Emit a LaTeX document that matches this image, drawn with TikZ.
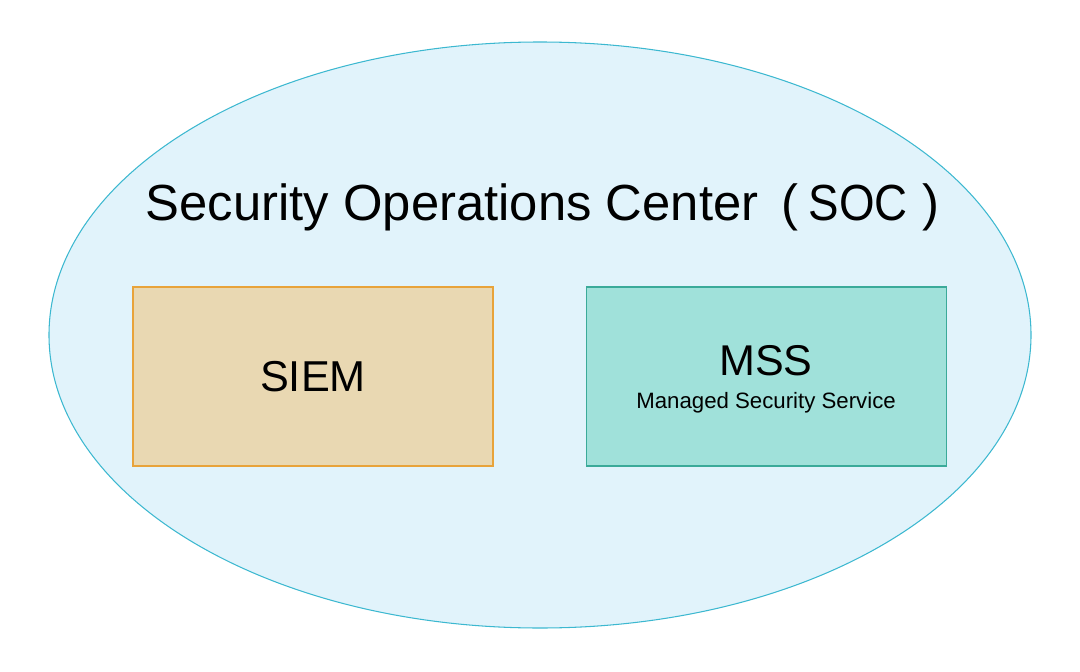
\documentclass[tikz,border=0pt]{standalone}
\usepackage{fontspec}
\setmainfont{Liberation Sans}
\usepackage{graphicx}
\usepackage{xcolor}
\usetikzlibrary{shapes.geometric, positioning}
\definecolor{socblue}{RGB}{225,243,251}
\definecolor{socedge}{RGB}{60,184,208}
\definecolor{siemfill}{RGB}{233,216,178}
\definecolor{siemedge}{RGB}{232,163,58}
\definecolor{mssfill}{RGB}{160,225,218}
\definecolor{mssedge}{RGB}{58,170,153}

\begin{document}
\begin{tikzpicture}[node distance=1.84cm,
    soc/.style={ellipse, draw=socedge, fill=socblue, line width=0.6pt, minimum width=19.64cm, minimum height=11.72cm, inner sep=0pt},
    title/.style={font=\fontsize{28.9}{34}\selectfont, inner sep=0pt},
    block/.style={rectangle, line width=0.6pt, minimum width=7.2cm, minimum height=3.58cm, align=center, inner sep=0pt}]
\useasboundingbox (-10.8,-6.72) rectangle (10.8,6.70);

\node[soc] (soc) at (0,0) {};
\node[title, anchor=base west] (name) at (-7.89,2.30) {Security Operations Center\hspace{0.19cm} (\hspace{0.2cm}\scalebox{0.9}[1]{SOC}\hspace{0.3cm})};

\node[block, draw=siemedge, fill=siemfill, font=\fontsize{24.6}{28}\selectfont] (siem) at (-4.54,-0.83) {SIEM};
\node[block, draw=mssedge, fill=mssfill] (mss) [right=of siem] {};
\node[font=\fontsize{24.5}{28}\selectfont, anchor=base, inner sep=0pt] (msstag) at ([yshift=0.03cm]mss.center) {MSS};
\node[font=\fontsize{12.65}{15}\selectfont, anchor=base, inner sep=0pt] (msslong) [below=0.66cm of msstag.base, anchor=base] {Managed Security Service};
\end{tikzpicture}
\end{document}
